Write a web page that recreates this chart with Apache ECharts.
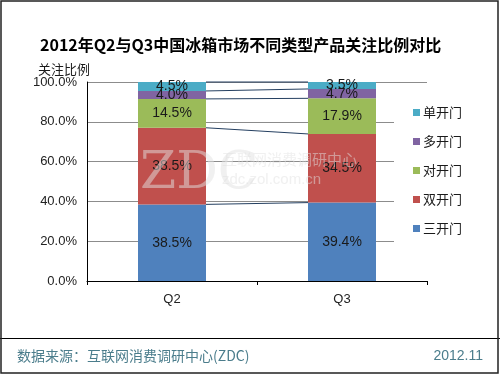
<!DOCTYPE html>
<html>
<head>
<meta charset="utf-8">
<script src="https://cdn.jsdelivr.net/npm/echarts@6/dist/echarts.min.js"></script>
<style>
  html, body { margin: 0; padding: 0; background: #fff; }
  #main { width: 500px; height: 375px; }
</style>
</head>
<body>
<div id="main"></div>
<script>
var quarters = ['Q2', 'Q3'];
var seriesNames = ['三开门', '双开门', '对开门', '多开门', '单开门'];
var sanKai = [38.5, 39.4];
var shuangKai = [38.5, 34.5];
var duiKai = [14.5, 17.9];
var duoKai = [4.0, 4.7];
var danKai = [4.5, 3.5];
var yTicks = [0, 20, 40, 60, 80, 100];

var values = [sanKai, shuangKai, duiKai, duoKai, danKai];
var colors = ['#4F81BD', '#C0504D', '#9BBB59', '#8064A2', '#4BACC6'];
var labelFont = 'Liberation Sans, Arial, sans-serif';
var cjkFont = 'Noto Sans CJK SC, sans-serif';

// 系列线：每段顶端的累计值
var cumLines = [];
var c2 = 0, c3 = 0;
for (var i = 0; i < values.length; i++) {
    c2 += values[i][0];
    c3 += values[i][1];
    cumLines.push([0, c2, c3]);
}

var chart = echarts.init(document.getElementById('main'));

var series = values.map(function (v, i) {
    return {
        name: seriesNames[i],
        type: 'bar',
        stack: 'total',
        barWidth: '40%',
        itemStyle: { color: colors[i] },
        label: {
            show: true,
            position: 'inside',
            color: '#1a1a1a',
            fontSize: 14,
            fontFamily: labelFont,
            formatter: function (p) { return p.value.toFixed(1) + '%'; }
        },
        data: v
    };
});

series.push({
    name: 'seriesLine',
    type: 'custom',
    silent: true,
    z: 1,
    encode: { x: 0, y: [1, 2] },
    renderItem: function (params, api) {
        var half = api.size([1, 0])[0] * 0.2;
        var p0 = api.coord([0, api.value(1)]);
        var p1 = api.coord([1, api.value(2)]);
        return {
            type: 'line',
            shape: { x1: p0[0] + half, y1: p0[1], x2: p1[0] - half, y2: p1[1] },
            style: { stroke: '#243f60', lineWidth: 1 }
        };
    },
    data: cumLines
});

var option = {
    animation: false,
    textStyle: { fontFamily: labelFont },
    title: {
        text: '2012年Q2与Q3中国冰箱市场不同类型产品关注比例对比',
        left: 35,
        top: 32,
        textStyle: { fontSize: 16, fontWeight: 'bold', color: '#000', fontFamily: cjkFont }
    },
    legend: {
        orient: 'vertical',
        left: 394,
        top: 98,
        padding: [8, 20, 8, 19],
        backgroundColor: '#fff',
        itemWidth: 7,
        itemHeight: 7,
        itemGap: 16,
        icon: 'rect',
        data: ['单开门', '多开门', '对开门', '双开门', '三开门'],
        textStyle: { fontSize: 13, color: '#1a1a1a', fontFamily: cjkFont, padding: [0, 0, 0, -2] }
    },
    grid: { left: 87, right: 73, top: 82, bottom: 94 },
    xAxis: {
        type: 'category',
        data: quarters,
        axisLine: { lineStyle: { color: '#000' } },
        axisTick: { show: true, length: 4, lineStyle: { color: '#000' } },
        axisLabel: { fontSize: 13, color: '#222', margin: 12, fontFamily: 'Liberation Sans, Arial' }
    },
    yAxis: {
        type: 'value',
        name: '关注比例',
        nameGap: 6,
        nameTextStyle: { fontSize: 13, color: '#1a1a1a', fontFamily: cjkFont, align: 'left', padding: [0, 0, 0, -49] },
        min: yTicks[0],
        max: yTicks[yTicks.length - 1],
        interval: 20,
        axisLine: { show: true, lineStyle: { color: '#000' } },
        axisTick: { show: false },
        axisLabel: {
            fontSize: 13,
            color: '#222',
            margin: 10,
            formatter: function (v) { return v.toFixed(1) + '%'; }
        },
        splitLine: { lineStyle: { color: '#8c8c8c' } }
    },
    graphic: [
        {
            type: 'text', left: 140, top: 148, z: 100, silent: true,
            style: { text: 'ZDC', fontSize: 52, fontFamily: 'DejaVu Serif, serif', fill: 'rgba(225,225,225,0.5)' }
        },
        {
            type: 'text', left: 222, top: 152, z: 100, silent: true,
            style: { text: '互联网消费调研中心', fontSize: 15, fontFamily: cjkFont, fill: 'rgba(225,225,225,0.5)' }
        },
        {
            type: 'text', left: 222, top: 172, z: 100, silent: true,
            style: { text: 'zdc.zol.com.cn', fontSize: 15, fontFamily: labelFont, fill: 'rgba(225,225,225,0.5)' }
        },
        {
            type: 'line', z: 100, silent: true,
            shape: { x1: 0, y1: 338.5, x2: 500, y2: 338.5 },
            style: { stroke: '#000', lineWidth: 1 }
        },
        {
            type: 'text', left: 17, top: 349, silent: true,
            style: { text: '数据来源：互联网消费调研中心(ZDC)', fontSize: 14, fontFamily: cjkFont, fill: '#4b7d8c' }
        },
        {
            type: 'text', right: 17, top: 349, silent: true,
            style: { text: '2012.11', fontSize: 14, fontFamily: labelFont, fill: '#4b7d8c' }
        },
        {
            type: 'rect', silent: true, z: 100,
            shape: { x: 1, y: 1, width: 497, height: 372 },
            style: { fill: 'none', stroke: '#222', lineWidth: 1.5 }
        }
    ],
    series: series
};

chart.setOption(option);
</script>
</body>
</html>
